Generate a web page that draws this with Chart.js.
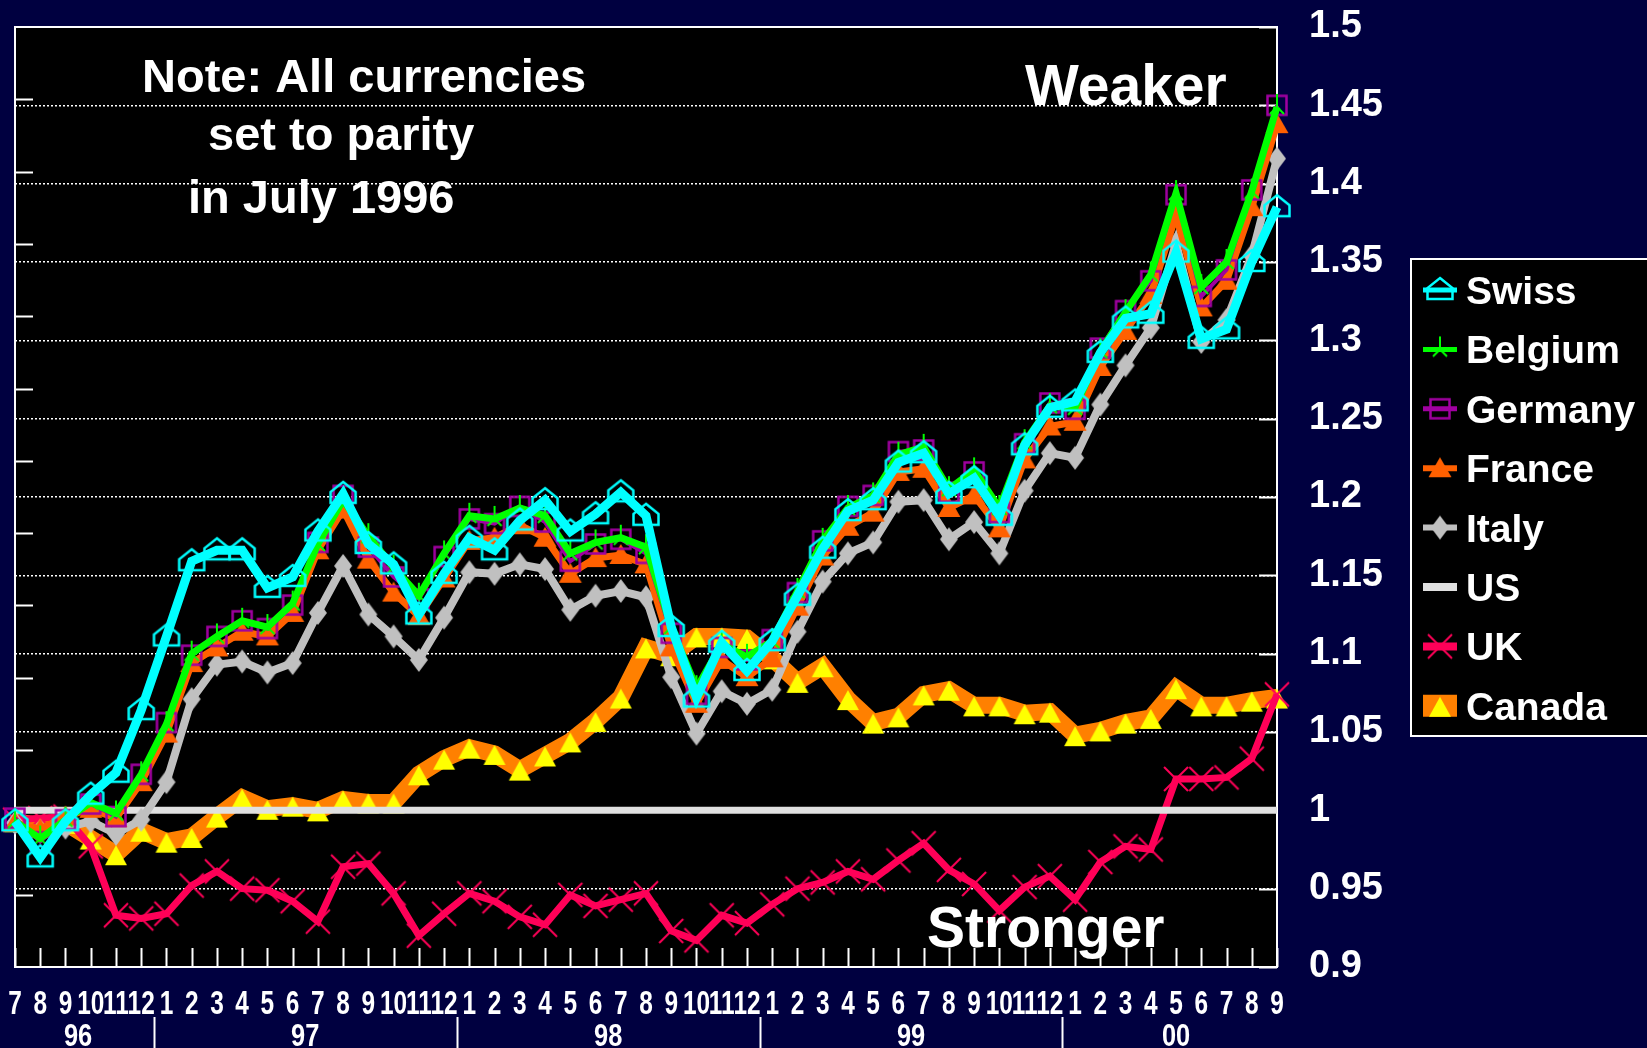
<!DOCTYPE html>
<html>
<head>
<meta charset="utf-8">
<script src="https://cdn.jsdelivr.net/npm/chart.js@4.4.1/dist/chart.umd.min.js"></script>
<style>
  html, body { margin: 0; padding: 0; background: #000040; overflow: hidden; }
  canvas { display: block; }
</style>
</head>
<body>
<canvas id="fx" width="1647" height="1048"></canvas>
<script>
// months Jul 96 .. Sep 00
const monthLabels = [7,8,9,10,11,12, 1,2,3,4,5,6,7,8,9,10,11,12, 1,2,3,4,5,6,7,8,9,10,11,12,
                     1,2,3,4,5,6,7,8,9,10,11,12, 1,2,3,4,5,6,7,8,9];
const yearLabels = ['96', '97', '98', '99', '00'];
const yearCounts = [6, 12, 12, 12, 9];

const swiss   = [0.993,0.970,0.993,1.010,1.024,1.064, 1.111,1.159,1.166,1.166,1.142,1.149,1.178,1.202,1.170,1.157,1.125,1.151,
                 1.174,1.166,1.185,1.198,1.178,1.189,1.203,1.188,1.117,1.072,1.107,1.089, 1.108,1.137,1.167,1.191,1.198,1.222,
                 1.228,1.202,1.212,1.188,1.233,1.257, 1.261,1.292,1.314,1.317,1.356,1.301,1.307,1.350,1.385];
const belgium = [0.993,0.982,0.994,1.005,0.998,1.023, 1.055,1.100,1.111,1.121,1.117,1.132,1.170,1.198,1.175,1.155,1.137,1.164,
                 1.188,1.186,1.193,1.188,1.164,1.171,1.174,1.168,1.117,1.078,1.106,1.098, 1.108,1.140,1.172,1.193,1.201,1.227,
                 1.232,1.205,1.217,1.193,1.235,1.258, 1.257,1.293,1.318,1.342,1.394,1.334,1.350,1.395,1.449];
const germany = [0.995,0.980,0.994,1.004,0.996,1.023, 1.056,1.099,1.111,1.121,1.116,1.131,1.171,1.201,1.168,1.149,1.135,1.162,
                 1.186,1.183,1.194,1.184,1.159,1.170,1.173,1.164,1.113,1.074,1.104,1.096, 1.109,1.139,1.172,1.194,1.201,1.229,
                 1.230,1.203,1.216,1.190,1.234,1.260, 1.256,1.295,1.319,1.338,1.393,1.328,1.345,1.396,1.450];
const france  = [0.992,0.988,0.996,1.001,0.995,1.018, 1.049,1.094,1.104,1.114,1.111,1.126,1.166,1.192,1.160,1.139,1.124,1.148,
                 1.172,1.174,1.182,1.174,1.151,1.161,1.163,1.157,1.104,1.068,1.096,1.085, 1.097,1.130,1.162,1.181,1.190,1.216,
                 1.218,1.193,1.201,1.180,1.224,1.245, 1.248,1.283,1.306,1.329,1.380,1.321,1.338,1.385,1.438];
const italy   = [0.992,0.987,0.989,0.993,0.985,0.994, 1.018,1.071,1.093,1.095,1.088,1.094,1.126,1.156,1.125,1.111,1.096,1.123,
                 1.152,1.151,1.157,1.154,1.128,1.137,1.140,1.136,1.085,1.049,1.076,1.068, 1.077,1.114,1.146,1.164,1.171,1.197,
                 1.198,1.173,1.184,1.164,1.204,1.228, 1.225,1.259,1.284,1.308,1.362,1.299,1.313,1.354,1.416];
const us      = [1,1,1,1,1,1, 1,1,1,1,1,1,1,1,1,1,1,1, 1,1,1,1,1,1,1,1,1,1,1,1, 1,1,1,1,1,1,1,1,1,1,1,1, 1,1,1,1,1,1,1,1,1];
const uk      = [0.994,0.995,0.996,0.977,0.933,0.931, 0.934,0.952,0.961,0.950,0.949,0.942,0.929,0.964,0.966,0.947,0.920,0.934,
                 0.947,0.942,0.932,0.927,0.946,0.939,0.943,0.947,0.923,0.917,0.933,0.928, 0.940,0.950,0.954,0.961,0.956,0.968,
                 0.979,0.962,0.953,0.936,0.951,0.958, 0.943,0.967,0.977,0.975,1.020,1.020,1.021,1.033,1.074];
const canada  = [0.993,0.990,0.992,0.982,0.972,0.987, 0.980,0.983,0.996,1.008,1.001,1.003,1.000,1.007,1.005,1.005,1.023,1.033,
                 1.040,1.036,1.026,1.035,1.044,1.057,1.072,1.104,1.099,1.111,1.111,1.110, 1.097,1.082,1.092,1.071,1.056,1.060,
                 1.074,1.077,1.067,1.067,1.062,1.063, 1.048,1.051,1.056,1.059,1.078,1.067,1.067,1.070,1.072];

const FONT = '"Liberation Sans", Arial, Helvetica, sans-serif';

// little canvases used as point styles
function marker(draw) {
    var c = document.createElement('canvas');
    c.width = 34; c.height = 34;
    var g = c.getContext('2d');
    g.translate(17, 17);
    draw(g);
    return c;
}
const mkSwiss = marker(function (g) {
    g.strokeStyle = '#00ffff'; g.lineWidth = 2.5;
    g.beginPath();
    g.moveTo(0, -12); g.lineTo(12.5, -2); g.lineTo(12.5, 9); g.lineTo(-12.5, 9); g.lineTo(-12.5, -2);
    g.closePath(); g.stroke();
});
const mkBelgium = marker(function (g) {
    g.strokeStyle = '#00ff00'; g.lineWidth = 2;
    g.beginPath();
    g.moveTo(0, -13); g.lineTo(0, 0);
    g.moveTo(0, 0); g.lineTo(-7, 7);
    g.moveTo(0, 0); g.lineTo(7, 7);
    g.stroke();
});
const mkGermany = marker(function (g) {
    g.strokeStyle = '#a000a0'; g.lineWidth = 2.5;
    g.strokeRect(-9.5, -9.5, 19, 19);
});
const mkFrance = marker(function (g) {
    g.fillStyle = '#ff6000';
    g.beginPath(); g.moveTo(0, -11); g.lineTo(11.5, 9); g.lineTo(-11.5, 9); g.closePath(); g.fill();
});
const mkItaly = marker(function (g) {
    g.fillStyle = '#c0c0c0';
    g.beginPath(); g.moveTo(0, -12); g.lineTo(9, 0); g.lineTo(0, 12); g.lineTo(-9, 0); g.closePath(); g.fill();
});
const mkUK = marker(function (g) {
    g.strokeStyle = '#ff0058'; g.lineWidth = 2;
    g.beginPath();
    g.moveTo(-12, -12); g.lineTo(12, 12);
    g.moveTo(12, -12); g.lineTo(-12, 12);
    g.stroke();
});
const mkCanada = marker(function (g) {
    g.fillStyle = '#ffff00';
    g.beginPath(); g.moveTo(0, -9); g.lineTo(11, 11); g.lineTo(-11, 11); g.closePath(); g.fill();
});

function series(label, data, color, width, style, legendWidth) {
    return {
        label: label,
        data: data,
        borderColor: color,
        backgroundColor: color,
        borderWidth: width,
        legendWidth: legendWidth,
        tension: 0,
        pointStyle: style || false,
        pointRadius: style ? 10 : 0,
        clip: false
    };
}

// no extra room for tick labels, the plot box is fixed
function noPad(s) {
    s.paddingTop = 0; s.paddingBottom = 0; s.paddingLeft = 0; s.paddingRight = 0;
}

const framePlugin = {
    id: 'frame',
    beforeDraw(chart) {
        const { ctx, chartArea: a } = chart;
        ctx.save();
        ctx.fillStyle = '#000040';
        ctx.fillRect(0, 0, chart.width, chart.height);
        ctx.fillStyle = '#000000';
        ctx.fillRect(a.left, a.top, a.right - a.left, a.bottom - a.top);
        ctx.restore();
    },
    beforeDatasetsDraw(chart) {
        const { ctx, chartArea: a, scales } = chart;
        ctx.save();
        ctx.strokeStyle = '#ffffff';
        ctx.lineWidth = 2;
        ctx.beginPath();
        // bottom ticks, one per month
        for (let i = 0; i < monthLabels.length; i++) {
            const x = Math.round(scales.x.getPixelForValue(i)) + 0.5;
            ctx.moveTo(x, a.bottom); ctx.lineTo(x, a.bottom - 19);
        }
        // right ticks
        scales.y.ticks.forEach(function (t) {
            const y = Math.round(scales.y.getPixelForValue(t.value)) + 0.5;
            ctx.moveTo(a.right, y); ctx.lineTo(a.right - 18, y);
        });
        // left ticks
        for (let k = 1; k < 13; k++) {
            const y = Math.round(scales.yl.getPixelForValue(k)) + 0.5;
            ctx.moveTo(a.left, y); ctx.lineTo(a.left + 18, y);
        }
        ctx.stroke();
        ctx.strokeRect(a.left, a.top, a.right - a.left, a.bottom - a.top);
        ctx.restore();
    },
    afterDraw(chart) {
        const { ctx, chartArea: a, scales } = chart;
        const xs = scales.x;
        ctx.save();
        ctx.fillStyle = '#ffffff';

        // month labels (narrow)
        ctx.font = 'bold 33px ' + FONT;
        ctx.textAlign = 'center';
        ctx.textBaseline = 'alphabetic';
        monthLabels.forEach(function (m, i) {
            ctx.save();
            ctx.translate(xs.getPixelForValue(i), a.bottom + 47);
            ctx.scale(0.74, 1);
            ctx.fillText(String(m), 0, 0);
            ctx.restore();
        });

        // year labels and separators
        ctx.font = 'bold 31px ' + FONT;
        ctx.strokeStyle = '#ffffff';
        ctx.lineWidth = 2;
        let start = 0;
        yearLabels.forEach(function (y, k) {
            const end = start + yearCounts[k] - 1;
            const cx = (xs.getPixelForValue(start) + xs.getPixelForValue(end)) / 2;
            ctx.save();
            ctx.translate(cx, a.bottom + 79);
            ctx.scale(0.82, 1);
            ctx.fillText(y, 0, 0);
            ctx.restore();
            if (k < yearLabels.length - 1) {
                const sx = Math.round((xs.getPixelForValue(end) + xs.getPixelForValue(end + 1)) / 2) + 0.5;
                ctx.beginPath();
                ctx.moveTo(sx, a.bottom + 50); ctx.lineTo(sx, chart.height);
                ctx.stroke();
            }
            start = end + 1;
        });

        // notes
        ctx.textAlign = 'left';
        ctx.font = 'bold 47px ' + FONT;
        ctx.fillText('Note: All currencies', 142, 92);
        ctx.fillText('set to parity', 208, 150);
        ctx.fillText('in July 1996', 188, 213);
        ctx.font = 'bold 57px ' + FONT;
        ctx.fillText('Weaker', 1025, 105);
        ctx.fillText('Stronger', 927, 947);

        // legend box
        ctx.fillStyle = '#000000';
        ctx.fillRect(1410, 258, 260, 479);
        ctx.strokeStyle = '#ffffff';
        ctx.lineWidth = 2;
        ctx.strokeRect(1411, 259, 260, 477);
        chart.data.datasets.forEach(function (ds, k) {
            const y = 290 + 59.4 * k;
            ctx.strokeStyle = ds.borderColor;
            ctx.lineWidth = ds.legendWidth;
            ctx.beginPath();
            ctx.moveTo(1423, y); ctx.lineTo(1457, y);
            ctx.stroke();
            if (ds.pointStyle) ctx.drawImage(ds.pointStyle, 1440 - 17, y - 17);
            ctx.fillStyle = '#ffffff';
            ctx.font = 'bold 39px ' + FONT;
            ctx.fillText(ds.label, 1466, y + 14);
        });
        ctx.restore();
    }
};

const chart = new Chart(document.getElementById('fx'), {
    type: 'line',
    data: {
        labels: monthLabels,
        datasets: [
            series('Swiss',   swiss,   '#00ffff', 9,  mkSwiss,   5),
            series('Belgium', belgium, '#00ff00', 7,  mkBelgium, 5),
            series('Germany', germany, '#a000a0', 4,  mkGermany, 5),
            series('France',  france,  '#ff6000', 7,  mkFrance,  6),
            series('Italy',   italy,   '#c0c0c0', 8,  mkItaly,   6),
            series('US',      us,      '#e0e0e0', 7,  null,      8),
            series('UK',      uk,      '#ff0058', 7,  mkUK,      8),
            series('Canada',  canada,  '#ff8000', 17, mkCanada,  22)
        ]
    },
    options: {
        responsive: false,
        animation: false,
        layout: { autoPadding: false, padding: { left: 15, top: 27, right: 0, bottom: 0 } },
        plugins: {
            legend: { display: false },
            tooltip: { enabled: false }
        },
        scales: {
            x: {
                type: 'category',
                offset: false,
                grid: { display: false },
                border: { display: false },
                ticks: { display: false },
                afterFit: function (s) { s.height = 81; noPad(s); }
            },
            y: {
                position: 'right',
                min: 0.9,
                max: 1.5,
                ticks: {
                    stepSize: 0.05,
                    color: '#ffffff',
                    padding: 32,
                    font: { family: FONT, size: 38, weight: 'bold' },
                    callback: function (v) { return String(Math.round(v * 100) / 100); }
                },
                grid: { color: '#ffffff', lineWidth: 1.5, drawTicks: false },
                border: { display: false, dash: [2, 2] },
                afterFit: function (s) { s.width = 370; noPad(s); }
            },
            yl: {
                position: 'left',
                min: 0,
                max: 13,
                display: false,
                afterFit: function (s) { s.width = 0; noPad(s); }
            }
        }
    },
    plugins: [framePlugin]
});
</script>
</body>
</html>
